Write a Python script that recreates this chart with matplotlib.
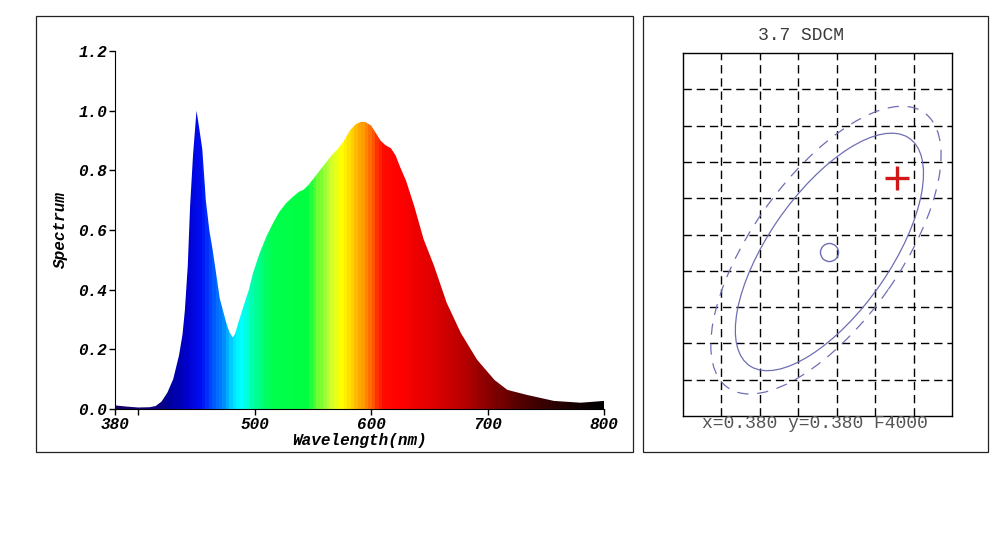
#!/usr/bin/env python
# -*- coding: utf-8 -*-
"""Spectrum (rainbow fill) + SDCM ellipse panel."""
import numpy as np
import matplotlib

matplotlib.use("Agg")
import matplotlib.pyplot as plt
from matplotlib.colors import LinearSegmentedColormap
from matplotlib.patches import Ellipse, Rectangle

# --- spectrum ---
wavelength = [380, 390, 400, 410, 415, 420, 425, 430, 435, 438, 440, 442.5,
              444.5, 447, 450, 452, 455, 458, 461, 464, 467, 470, 475.5, 478,
              481, 483, 486, 490, 495, 498.5, 504, 510, 516, 521, 527, 533,
              538, 542, 546, 550, 556, 561, 566, 571, 576, 582, 587, 591, 595,
              600, 604, 608, 612, 617, 621, 625, 630, 637, 645, 654, 665, 677,
              691, 706, 717, 734, 757, 780, 790, 800]
spectrum = [0.012, 0.008, 0.005, 0.006, 0.010, 0.025, 0.055, 0.10, 0.18, 0.25,
            0.33, 0.48, 0.68, 0.85, 1.00, 0.95, 0.87, 0.70, 0.60, 0.53, 0.45,
            0.37, 0.29, 0.26, 0.24, 0.25, 0.29, 0.34, 0.40, 0.455, 0.52, 0.578,
            0.625, 0.66, 0.69, 0.712, 0.728, 0.735, 0.75, 0.77, 0.80, 0.825,
            0.85, 0.87, 0.895, 0.935, 0.955, 0.962, 0.962, 0.950, 0.925, 0.90,
            0.885, 0.874, 0.85, 0.81, 0.765, 0.68, 0.57, 0.48, 0.355, 0.255,
            0.165, 0.097, 0.064, 0.047, 0.027, 0.021, 0.024, 0.027]
x_ticks = [380, 400, 500, 600, 700, 800]
x_tick_labels = ["380", "", "500", "600", "700", "800"]
y_ticks = [0.0, 0.2, 0.4, 0.6, 0.8, 1.0, 1.2]

# wavelength -> colour stops for the rainbow fill
color_nm = [380, 415, 425, 440, 452, 462, 472, 480, 487, 495, 505, 515, 545,
            555, 565, 574, 585, 593, 602, 609, 625, 648, 677, 700, 734, 778, 800]
color_rgb = [(0.1, 0, 0.4), (0.05, 0, 0.5), (0, 0, 0.6), (0, 0, 0.8),
             (0, 0.05, 0.95), (0, 0.3, 1), (0, 0.55, 1), (0, 0.85, 1),
             (0, 1, 1), (0, 1, 0.75), (0, 1, 0.45), (0, 1, 0.3), (0, 1, 0.25),
             (0.45, 1, 0.2), (0.8, 1, 0.2), (1, 1, 0), (1, 0.8, 0),
             (1, 0.6, 0), (1, 0.35, 0), (1, 0.05, 0), (1, 0, 0), (0.9, 0, 0),
             (0.75, 0, 0), (0.55, 0, 0), (0.3, 0, 0), (0.08, 0, 0), (0, 0, 0)]

# --- SDCM panel (grid units: 7 x 10 cells) ---
sdcm_title = "3.7 SDCM"
sdcm_caption = "x=0.380 y=0.380 F4000"
target_xy = (3.79, 4.52)        # circle = target point
measured_xy = (5.58, 6.56)      # red cross = measured point
inner_ellipse = dict(center=(3.81, 4.52), a=3.76, b=1.60, angle=57.0)
outer_ellipse = dict(center=(3.72, 4.57), a=4.57, b=1.95, angle=56.6)

MONO = "Liberation Mono"
ELL_COLOR = "#6e6eb4"


def draw_spectrum(fig):
    ax = fig.add_axes([0.115, 0.2564, 0.489, 0.6509])
    fill = ax.fill_between(wavelength, spectrum, 0, facecolor="none",
                           edgecolor="none")
    cmap = LinearSegmentedColormap.from_list(
        "wl", [((n - 380) / 420, c) for n, c in zip(color_nm, color_rgb)])
    xs = np.arange(380, 801, 3)
    img = ax.imshow(cmap((xs - 380) / 420)[np.newaxis, :, :],
                    extent=(380, 800, 0, 1.2), aspect="auto",
                    interpolation="nearest", origin="lower")
    img.set_clip_path(fill.get_paths()[0], transform=ax.transData)

    ax.set_xlim(380, 800)
    ax.set_ylim(0, 1.2)
    for side in ("top", "right"):
        ax.spines[side].set_visible(False)
    ax.set_xticks(x_ticks)
    ax.set_xticklabels(x_tick_labels)
    ax.set_yticks(y_ticks)
    ax.set_yticklabels([f"{v:.1f}" for v in y_ticks])
    ax.tick_params(direction="out", length=4, width=1, pad=1.5)
    font = dict(family=MONO, weight="bold", style="italic", size=11.5)
    for lab in ax.get_xticklabels() + ax.get_yticklabels():
        lab.set_fontproperties(matplotlib.font_manager.FontProperties(**font))
    ax.set_xlabel("Wavelength(nm)", fontdict=font)
    ax.set_ylabel("Spectrum", fontdict=font)
    ax.xaxis.set_label_coords(0.5, -0.066)
    ax.yaxis.set_label_coords(-0.097, 0.5)


def draw_sdcm(fig):
    ax = fig.add_axes([0.683, 0.2436, 0.269, 0.66])
    ax.set_xlim(0, 7)
    ax.set_ylim(0, 10)
    ax.set_xticks(range(1, 7))
    ax.set_yticks(range(1, 10))
    ax.tick_params(length=0, labelbottom=False, labelleft=False)
    ax.grid(True, color="black", linestyle=(0, (6, 3.5)), linewidth=1.0)
    for sp in ax.spines.values():
        sp.set_linewidth(1.0)

    for e, ls in ((inner_ellipse, "-"), (outer_ellipse, (0, (9, 7)))):
        ax.add_patch(Ellipse(e["center"], 2 * e["a"], 2 * e["b"],
                             angle=e["angle"], fill=False, edgecolor=ELL_COLOR,
                             linewidth=0.9, linestyle=ls, zorder=3))
    ax.plot(*target_xy, marker="o", markersize=13, markerfacecolor="none",
            markeredgecolor=ELL_COLOR, markeredgewidth=1.0, zorder=4)
    ax.plot(*measured_xy, marker="+", markersize=17, markeredgewidth=2.4,
            color="#d01818", zorder=5)

    fig.text(0.801, 1 - 35 / 550, sdcm_title, family=MONO, size=13,
             color="#3a3a3a", ha="center", va="center")
    fig.text(0.815, 1 - 423 / 550, sdcm_caption, family=MONO, size=13,
             color="#555555", ha="center", va="center")


def main():
    fig = plt.figure(figsize=(10, 5.5), dpi=100)
    for x0, x1 in ((36, 633), (643, 988)):
        fig.add_artist(Rectangle((x0 / 1000, 1 - 452 / 550),
                                 (x1 - x0) / 1000, 436 / 550,
                                 transform=fig.transFigure, fill=False,
                                 edgecolor="#222222", linewidth=0.9))
    draw_spectrum(fig)
    draw_sdcm(fig)
    fig.savefig("out.png", dpi=100)
    plt.close(fig)


if __name__ == "__main__":
    main()
